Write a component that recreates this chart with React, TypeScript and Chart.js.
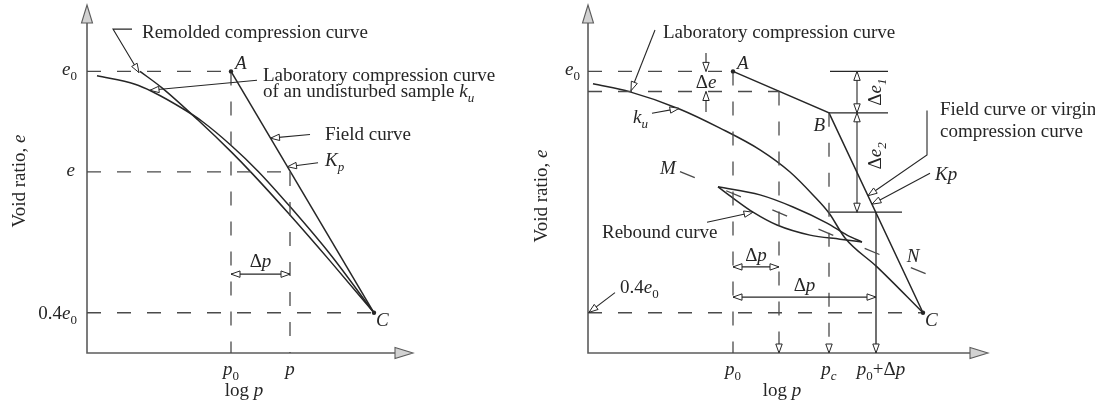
import React, { useEffect, useRef } from "react";
import { Chart, registerables } from "chart.js";

Chart.register(...registerables);

const FONT = '"Liberation Serif", "Times New Roman", serif';
const INK = "#262626";
const AXIS = "#5c5c5c";
const FS = 19;

// Shared vertical range (void ratio in units of e0)
const Y_MIN = 0.3;
const Y_MAX = 1.165;

// ---------- Left panel ----------
const L_X_MAX = 3.26;
const L_E0 = 1.0;
const L_E = 0.75;
const L_E_MIN = 0.4; // 0.4 e0
const L_P0 = 1.44;
const L_P = 2.03;
const L_PC = 2.87; // log p at C

const L_LAB_LOGP = [0.1, 0.48, 0.65, 0.98, 1.15, 1.45, 1.71, 2.03, 2.43, 2.87];
const L_LAB_E = [0.989, 0.968, 0.95, 0.904, 0.876, 0.814, 0.752, 0.664, 0.546, 0.4];
const L_REM_LOGP = [0.53, 0.75, 1.11, 1.45, 1.66, 2.03, 2.43, 2.87];
const L_REM_E = [1.0, 0.959, 0.879, 0.798, 0.744, 0.643, 0.529, 0.4];
const L_FIELD_LOGP = [L_P0, L_PC];
const L_FIELD_E = [L_E0, L_E_MIN];

// ---------- Right panel ----------
const R_X_MAX = 4.0;
const R_E0 = 1.0;
const R_E1 = 0.95; // e0 - Δe
const R_EB = 0.897;
const R_EK = 0.65;
const R_E_MIN = 0.4;
const R_P0 = 1.45;
const R_P1 = 1.91;
const R_PC = 2.41;
const R_PK = 2.88; // p0 + Δp
const R_PCC = 3.35; // log p at C

const R_LAB_LOGP = [0.05, 0.42, 0.92, 1.32, 1.72, 2.02, 2.25, 2.41, 2.57, 2.89, 3.35];
const R_LAB_E = [0.969, 0.949, 0.906, 0.859, 0.805, 0.75, 0.693, 0.648, 0.586, 0.514, 0.4];
const R_FIELD_LOGP = [R_P0, R_PC, R_PCC];
const R_FIELD_E = [R_E0, R_EB, R_E_MIN];
const R_REB_UP_LOGP = [1.3, 1.72, 2.05, 2.39, 2.59, 2.74];
const R_REB_UP_E = [0.713, 0.693, 0.663, 0.623, 0.593, 0.576];
const R_REB_LO_LOGP = [1.3, 1.45, 1.65, 1.89, 2.22, 2.52, 2.74];
const R_REB_LO_E = [0.713, 0.685, 0.65, 0.618, 0.593, 0.583, 0.576];
const R_MN_LOGP = [0.92, 3.6];
const R_MN_E = [0.751, 0.474];

type Pt = { x: number; y: number };
const zip = (xs: number[], ys: number[]): Pt[] => xs.map((x, i) => ({ x, y: ys[i] }));

const base = { showLine: true, pointRadius: 0, pointHoverRadius: 0, tension: 0, clip: false as any, fill: false };
const curve = (xs: number[], ys: number[]) => ({
  ...base, data: zip(xs, ys), borderColor: INK, borderWidth: 1.5, cubicInterpolationMode: "monotone" as const,
});
const straight = (xs: number[], ys: number[], w = 1.5) => ({
  ...base, data: zip(xs, ys), borderColor: INK, borderWidth: w,
});
const guide = (xs: number[], ys: number[], dash = [14, 16]) => ({
  ...base, data: zip(xs, ys), borderColor: "#4a4a4a", borderWidth: 1.3, borderDash: dash,
});

// ---------- drawing helpers ----------
type Run = { t: string; it?: boolean; sub?: boolean };
const runFont = (r: Run, size: number) =>
  `${r.it ? "italic " : ""}${r.sub ? Math.round(size * 0.68) : size}px ${FONT}`;

function rich(ctx: CanvasRenderingContext2D, runs: Run[], x: number, y: number, align = "left", size = FS) {
  let w = 0;
  for (const r of runs) {
    ctx.font = runFont(r, size);
    w += ctx.measureText(r.t).width;
  }
  let cx = align === "left" ? x : align === "center" ? x - w / 2 : x - w;
  ctx.textAlign = "left";
  ctx.textBaseline = "alphabetic";
  ctx.fillStyle = INK;
  for (const r of runs) {
    ctx.font = runFont(r, size);
    ctx.fillText(r.t, cx, y + (r.sub ? size * 0.26 : 0));
    cx += ctx.measureText(r.t).width;
  }
}

function richRot(ctx: CanvasRenderingContext2D, runs: Run[], cx: number, cy: number, size = FS) {
  ctx.save();
  ctx.translate(cx, cy);
  ctx.rotate(-Math.PI / 2);
  rich(ctx, runs, 0, size * 0.3, "center", size);
  ctx.restore();
}

function head(ctx: CanvasRenderingContext2D, tx: number, ty: number, fx: number, fy: number, len = 9, half = 3.2) {
  const a = Math.atan2(ty - fy, tx - fx);
  const bx = tx - len * Math.cos(a);
  const by = ty - len * Math.sin(a);
  const nx = -Math.sin(a) * half;
  const ny = Math.cos(a) * half;
  ctx.beginPath();
  ctx.moveTo(tx, ty);
  ctx.lineTo(bx + nx, by + ny);
  ctx.lineTo(bx - nx, by - ny);
  ctx.closePath();
  ctx.fillStyle = "#fff";
  ctx.fill();
  ctx.strokeStyle = INK;
  ctx.lineWidth = 1;
  ctx.stroke();
}

function seg(ctx: CanvasRenderingContext2D, pts: number[][], w = 1.1) {
  ctx.beginPath();
  ctx.moveTo(pts[0][0], pts[0][1]);
  for (let i = 1; i < pts.length; i++) ctx.lineTo(pts[i][0], pts[i][1]);
  ctx.strokeStyle = INK;
  ctx.lineWidth = w;
  ctx.stroke();
}

function leader(ctx: CanvasRenderingContext2D, pts: number[][]) {
  seg(ctx, pts);
  const n = pts.length;
  head(ctx, pts[n - 1][0], pts[n - 1][1], pts[n - 2][0], pts[n - 2][1]);
}

function dim(ctx: CanvasRenderingContext2D, x1: number, y1: number, x2: number, y2: number) {
  seg(ctx, [[x1, y1], [x2, y2]]);
  head(ctx, x1, y1, x2, y2);
  head(ctx, x2, y2, x1, y1);
}

function dot(ctx: CanvasRenderingContext2D, x: number, y: number) {
  ctx.beginPath();
  ctx.arc(x, y, 2.2, 0, Math.PI * 2);
  ctx.fillStyle = INK;
  ctx.fill();
}

function tools(chart: any) {
  const ctx: CanvasRenderingContext2D = chart.ctx;
  const sx = chart.scales.x;
  const sy = chart.scales.y;
  const X = (v: number) => sx.getPixelForValue(v);
  const Y = (v: number) => sy.getPixelForValue(v);
  const P = (x: number, y: number) => [X(x), Y(y)];
  return { ctx, X, Y, P, area: chart.chartArea };
}

function drawAxes(chart: any) {
  const { ctx, area } = tools(chart);
  const L = 18;
  const H = 5.5;
  ctx.save();
  ctx.strokeStyle = AXIS;
  ctx.lineWidth = 1.6;
  ctx.beginPath();
  ctx.moveTo(area.left, area.top + L);
  ctx.lineTo(area.left, area.bottom);
  ctx.lineTo(area.right - L, area.bottom);
  ctx.stroke();
  ctx.fillStyle = "#d2d2d2";
  ctx.lineWidth = 1.1;
  ctx.beginPath();
  ctx.moveTo(area.left, area.top);
  ctx.lineTo(area.left - H, area.top + L);
  ctx.lineTo(area.left + H, area.top + L);
  ctx.closePath();
  ctx.fill();
  ctx.stroke();
  ctx.beginPath();
  ctx.moveTo(area.right, area.bottom);
  ctx.lineTo(area.right - L, area.bottom - H);
  ctx.lineTo(area.right - L, area.bottom + H);
  ctx.closePath();
  ctx.fill();
  ctx.stroke();
  ctx.restore();
}

const E0: Run[] = [{ t: "e", it: true }, { t: "0", sub: true }];
const P0: Run[] = [{ t: "p", it: true }, { t: "0", sub: true }];
const DP: Run[] = [{ t: "Δ" }, { t: "p", it: true }];
const E04: Run[] = [{ t: "0.4" }, ...E0];
const LOGP: Run[] = [{ t: "log " }, { t: "p", it: true }];
const VOID: Run[] = [{ t: "Void ratio, " }, { t: "e", it: true }];

function leftNotes(chart: any) {
  const { ctx, X, Y, P, area } = tools(chart);
  ctx.save();
  const tx = area.left - 10;
  rich(ctx, E0, tx, Y(L_E0) + 4, "right");
  rich(ctx, [{ t: "e", it: true }], tx - 2, Y(L_E) + 4, "right");
  rich(ctx, E04, tx, Y(L_E_MIN) + 6, "right");
  rich(ctx, P0, X(L_P0), area.bottom + 22, "center");
  rich(ctx, [{ t: "p", it: true }], X(L_P), area.bottom + 22, "center");
  rich(ctx, LOGP, X(1.57), area.bottom + 43, "center");
  richRot(ctx, VOID, area.left - 68, 181);

  dot(ctx, X(L_P0), Y(L_E0));
  rich(ctx, [{ t: "A", it: true }], X(L_P0) + 4, Y(L_E0) - 2);
  dot(ctx, X(L_PC), Y(L_E_MIN));
  rich(ctx, [{ t: "C", it: true }], X(L_PC) + 2, Y(L_E_MIN) + 13);

  // remolded curve callout
  leader(ctx, [P(0.45, 1.105), P(0.26, 1.105), P(0.52, 0.997)]);
  rich(ctx, [{ t: "Remolded compression curve" }], X(0.55), Y(1.083));
  // undisturbed laboratory curve callout
  leader(ctx, [P(1.7, 0.978), P(0.63, 0.953)]);
  rich(ctx, [{ t: "Laboratory compression curve" }], X(1.76), Y(0.977));
  rich(ctx, [{ t: "of an undisturbed sample " }, { t: "k", it: true }, { t: "u", it: true, sub: true }], X(1.76), Y(0.937));
  // field curve callouts
  leader(ctx, [P(2.23, 0.843), P(1.835, 0.834)]);
  rich(ctx, [{ t: "Field curve" }], X(2.38), Y(0.829));
  leader(ctx, [P(2.31, 0.773), P(2.005, 0.763)]);
  rich(ctx, [{ t: "K", it: true }, { t: "p", it: true, sub: true }], X(2.38), Y(0.765));

  // Δp dimension
  const yd = Y(0.496);
  dim(ctx, X(L_P0), yd, X(L_P), yd);
  rich(ctx, DP, (X(L_P0) + X(L_P)) / 2, yd - 7, "center");
  ctx.restore();
}

function rightNotes(chart: any) {
  const { ctx, X, Y, P, area } = tools(chart);
  ctx.save();
  rich(ctx, E0, area.left - 8, Y(R_E0) + 4, "right");
  rich(ctx, P0, X(R_P0), area.bottom + 22, "center");
  rich(ctx, [{ t: "p", it: true }, { t: "c", it: true, sub: true }], X(R_PC), area.bottom + 22, "center");
  rich(ctx, [...P0, { t: "+Δ" }, { t: "p", it: true }], X(R_PK) + 5, area.bottom + 22, "center");
  rich(ctx, LOGP, X(1.94), area.bottom + 43, "center");
  richRot(ctx, VOID, area.left - 47, 196);

  // extension lines on the right
  seg(ctx, [P(2.42, R_E0), P(3.0, R_E0)], 1.3);
  seg(ctx, [P(R_PC, R_EB), P(3.0, R_EB)], 1.3);
  seg(ctx, [P(2.42, R_EK), P(3.14, R_EK)], 1.3);

  // down arrows onto the log p axis
  for (const v of [R_P1, R_PC, R_PK]) head(ctx, X(v), area.bottom, X(v), area.bottom - 20);

  dot(ctx, X(R_P0), Y(R_E0));
  rich(ctx, [{ t: "A", it: true }], X(R_P0) + 4, Y(R_E0) - 2);
  rich(ctx, [{ t: "B", it: true }], X(R_PC) - 4, Y(R_EB) + 18, "right");
  dot(ctx, X(R_PCC), Y(R_E_MIN));
  rich(ctx, [{ t: "C", it: true }], X(R_PCC) + 2, Y(R_E_MIN) + 13);
  rich(ctx, [{ t: "M", it: true }], X(0.8), Y(0.762) + 7, "center");
  rich(ctx, [{ t: "N", it: true }], X(3.25), Y(0.544) + 7, "center");

  // laboratory curve callouts
  leader(ctx, [P(0.67, 1.103), P(0.43, 0.952)]);
  rich(ctx, [{ t: "Laboratory compression curve" }], X(0.75), Y(1.083));
  leader(ctx, [P(0.64, 0.896), P(0.91, 0.908)]);
  rich(ctx, [{ t: "k", it: true }, { t: "u", it: true, sub: true }], X(0.45), Y(0.871));

  // Δe between e0 and the reloading level
  const xe = X(1.18);
  seg(ctx, [[xe, Y(1.046)], [xe, Y(R_E0)]]);
  head(ctx, xe, Y(R_E0), xe, Y(1.046));
  seg(ctx, [[xe, Y(0.899)], [xe, Y(R_E1)]]);
  head(ctx, xe, Y(R_E1), xe, Y(0.899));
  rich(ctx, [{ t: "Δ" }, { t: "e", it: true }], xe, Y(0.959), "center");

  // Δe1 and Δe2
  const xd = X(2.69);
  dim(ctx, xd, Y(R_E0), xd, Y(R_EB));
  dim(ctx, xd, Y(R_EB), xd, Y(R_EK));
  richRot(ctx, [{ t: "Δ" }, { t: "e", it: true }, { t: "1", it: true, sub: true }], X(2.87), (Y(R_E0) + Y(R_EB)) / 2);
  richRot(ctx, [{ t: "Δ" }, { t: "e", it: true }, { t: "2", it: true, sub: true }], X(2.87), Y(0.79));

  // field curve callouts
  leader(ctx, [P(3.39, 0.903), P(3.39, 0.792), P(2.8, 0.691)]);
  rich(ctx, [{ t: "Field curve or virgin" }], X(3.52), Y(0.891));
  rich(ctx, [{ t: "compression curve" }], X(3.52), Y(0.836));
  leader(ctx, [P(3.42, 0.747), P(2.84, 0.67)]);
  rich(ctx, [{ t: "Kp", it: true }], X(3.47), Y(0.73));

  // rebound curve callout
  leader(ctx, [P(1.19, 0.625), P(1.65, 0.65)]);
  rich(ctx, [{ t: "Rebound curve" }], X(0.14), Y(0.585));

  // Δp dimensions
  const y1 = Y(0.514);
  dim(ctx, X(R_P0), y1, X(R_P1), y1);
  rich(ctx, DP, (X(R_P0) + X(R_P1)) / 2, y1 - 6, "center");
  const y2 = Y(0.439);
  dim(ctx, X(R_P0), y2, X(R_PK), y2);
  rich(ctx, DP, (X(R_P0) + X(R_PK)) / 2, y2 - 6, "center");

  // 0.4 e0 callout
  leader(ctx, [P(0.27, 0.45), P(0.01, 0.401)]);
  rich(ctx, E04, X(0.32), Y(0.448));
  ctx.restore();
}

const leftSets = [
  guide([0, L_P0], [L_E0, L_E0]),
  guide([0, L_P], [L_E, L_E]),
  guide([0, L_PC], [L_E_MIN, L_E_MIN]),
  guide([L_P0, L_P0], [L_E0, Y_MIN]),
  guide([L_P, L_P], [L_E, Y_MIN]),
  curve(L_LAB_LOGP, L_LAB_E),
  curve(L_REM_LOGP, L_REM_E),
  straight(L_FIELD_LOGP, L_FIELD_E),
];

const rightSets = [
  guide([0, R_P0], [R_E0, R_E0]),
  guide([0, R_P1], [R_E1, R_E1]),
  guide([0, R_PCC], [R_E_MIN, R_E_MIN]),
  guide([R_P0, R_P0], [R_E0, Y_MIN]),
  guide([R_P1, R_P1], [R_E1, Y_MIN]),
  guide([R_PC, R_PC], [R_EB, Y_MIN]),
  guide(R_MN_LOGP, R_MN_E, [16, 34]),
  straight([R_PK, R_PK], [R_EK, Y_MIN], 1.3),
  curve(R_LAB_LOGP, R_LAB_E),
  straight(R_FIELD_LOGP, R_FIELD_E),
  curve(R_REB_UP_LOGP, R_REB_UP_E),
  curve(R_REB_LO_LOGP, R_REB_LO_E),
];

type PanelProps = {
  left: number;
  width: number;
  padLeft: number;
  padRight: number;
  xMax: number;
  datasets: any[];
  notes: (c: any) => void;
};

function Panel({ left, width, padLeft, padRight, xMax, datasets, notes }: PanelProps) {
  const ref = useRef<HTMLCanvasElement>(null);
  useEffect(() => {
    const chart = new Chart(ref.current as HTMLCanvasElement, {
      type: "line",
      data: { datasets: datasets as any },
      options: {
        responsive: false,
        animation: false,
        devicePixelRatio: 1,
        events: [],
        layout: { padding: { left: padLeft, right: padRight, top: 5, bottom: 54 } },
        plugins: { legend: { display: false }, tooltip: { enabled: false }, title: { display: false } },
        scales: {
          x: { type: "linear", display: false, min: 0, max: xMax },
          y: { type: "linear", display: false, min: Y_MIN, max: Y_MAX },
        },
      },
      plugins: [
        {
          id: "diagram",
          beforeDatasetsDraw: (c: any) => drawAxes(c),
          afterDatasetsDraw: (c: any) => notes(c),
        },
      ],
    });
    return () => chart.destroy();
  }, []);
  return (
    <canvas
      ref={ref}
      width={width}
      height={407}
      style={{ position: "absolute", left, top: 0, width, height: 407 }}
    />
  );
}

export default function App() {
  return (
    <div style={{ position: "absolute", left: 0, top: 0, width: 1095, height: 407, background: "#fff" }}>
      <Panel left={0} width={500} padLeft={87} padRight={87} xMax={L_X_MAX} datasets={leftSets} notes={leftNotes} />
      <Panel left={500} width={595} padLeft={88} padRight={107} xMax={R_X_MAX} datasets={rightSets} notes={rightNotes} />
    </div>
  );
}
